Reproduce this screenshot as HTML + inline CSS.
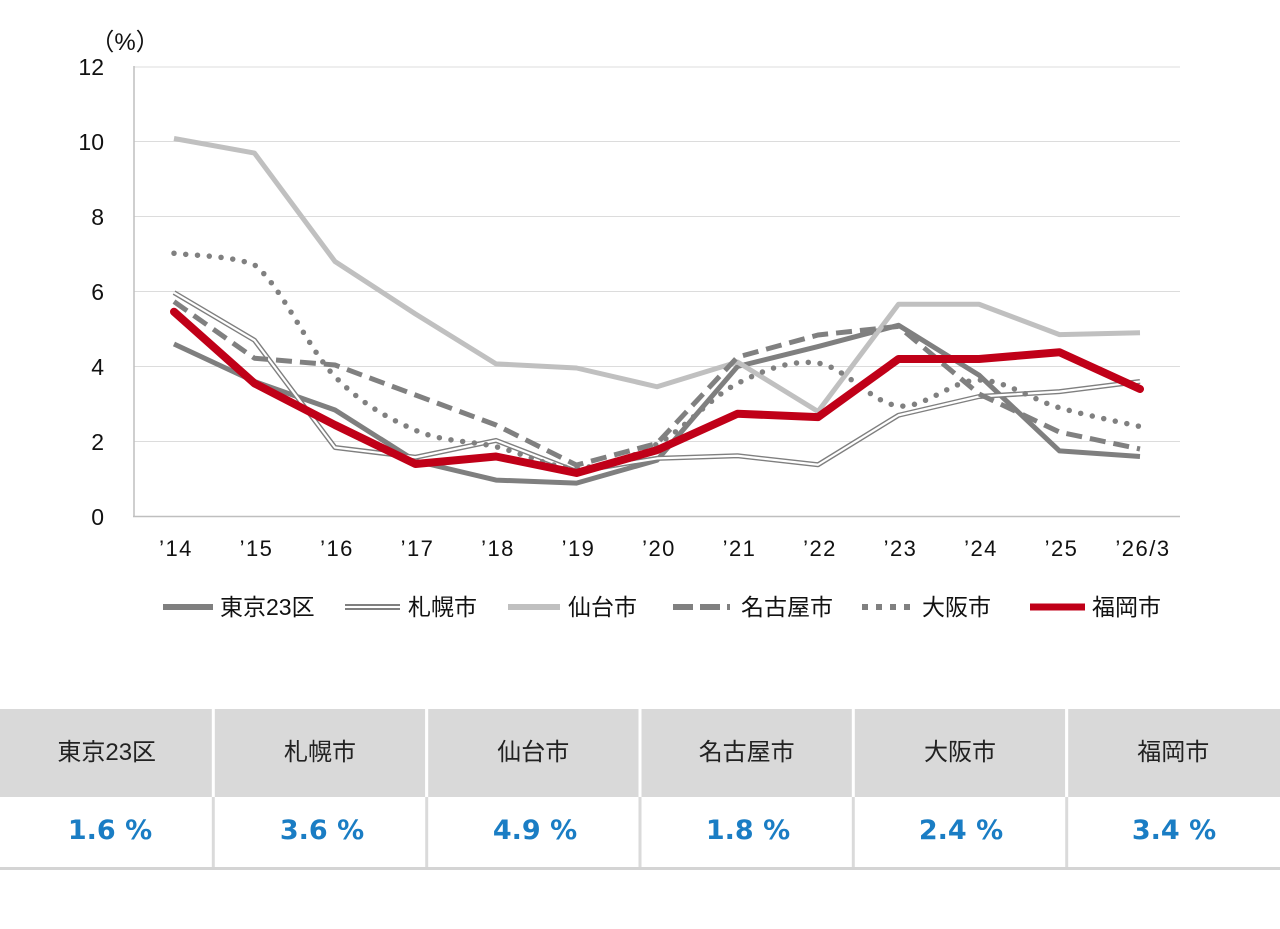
<!DOCTYPE html>
<html><head><meta charset="utf-8"><style>
html,body{margin:0;padding:0;background:#fff;}
svg{display:block;}
</style></head><body>
<svg width="1280" height="929" viewBox="0 0 1280 929" xmlns="http://www.w3.org/2000/svg">
<rect width="1280" height="929" fill="#fff"/>
<!-- gridlines -->
<g stroke="#dcdcdc" stroke-width="1">
<line x1="134" y1="67" x2="1180" y2="67"/>
<line x1="134" y1="141.5" x2="1180" y2="141.5"/>
<line x1="134" y1="216.5" x2="1180" y2="216.5"/>
<line x1="134" y1="291.5" x2="1180" y2="291.5"/>
<line x1="134" y1="366.5" x2="1180" y2="366.5"/>
<line x1="134" y1="441.5" x2="1180" y2="441.5"/>
</g>
<line x1="134" y1="66" x2="134" y2="517" stroke="#bfbfbf" stroke-width="1.5"/>
<line x1="133" y1="516.5" x2="1180" y2="516.5" stroke="#bfbfbf" stroke-width="1.5"/>
<!-- y labels -->
<g font-family="'Liberation Sans','Noto Sans CJK JP',sans-serif" font-size="23" fill="#111" text-anchor="end">
<text x="104" y="75">12</text>
<text x="104" y="150">10</text>
<text x="104" y="225">8</text>
<text x="104" y="300">6</text>
<text x="104" y="375">4</text>
<text x="104" y="450">2</text>
<text x="104" y="525">0</text>
</g>
<text x="125" y="50" font-family="'Liberation Sans','Noto Sans CJK JP',sans-serif" font-size="24" fill="#111" text-anchor="middle">（%）</text>
<!-- x labels -->
<g font-family="'Liberation Sans','Noto Sans CJK JP',sans-serif" font-size="22" fill="#111" text-anchor="middle" letter-spacing="1.5">
<text x="176" y="556">’14</text>
<text x="256.5" y="556">’15</text>
<text x="337" y="556">’16</text>
<text x="417.5" y="556">’17</text>
<text x="498" y="556">’18</text>
<text x="578.5" y="556">’19</text>
<text x="659" y="556">’20</text>
<text x="739.5" y="556">’21</text>
<text x="820" y="556">’22</text>
<text x="900.5" y="556">’23</text>
<text x="981" y="556">’24</text>
<text x="1061.5" y="556">’25</text>
<text x="1143" y="556">’26/3</text>
</g>
<!-- series -->
<g fill="none" stroke-linejoin="round">
<!-- Tokyo -->
<polyline stroke="#7f7f7f" stroke-width="5" points="174,344 254.5,381.5 335,410 415.5,461 496,480.1 576.5,483.1 657,460.25 737.5,366.5 818,346.6 898.5,325.25 979,375.1 1059.5,450.9 1140,456.5"/>
<!-- Sapporo double -->
<polyline stroke="#7f7f7f" stroke-width="5" points="174,292.6 254.5,340.25 335,447.5 415.5,457.25 496,440.4 576.5,471.5 657,458.4 737.5,455.75 818,464.75 898.5,415.25 979,396.5 1059.5,391.6 1140,381.5"/>
<polyline stroke="#ffffff" stroke-width="2.2" points="174,292.6 254.5,340.25 335,447.5 415.5,457.25 496,440.4 576.5,471.5 657,458.4 737.5,455.75 818,464.75 898.5,415.25 979,396.5 1059.5,391.6 1140,381.5"/>
<!-- Sendai -->
<polyline stroke="#c0c0c0" stroke-width="5" points="174,138.5 254.5,153.1 335,261.5 415.5,314 496,363.9 576.5,368 657,386.75 737.5,362 818,411.5 898.5,304.25 979,304.25 1059.5,334.6 1140,332.75"/>
<!-- Nagoya dashed -->
<polyline stroke="#808080" stroke-width="5" stroke-dasharray="16 8" points="174,301.6 254.5,358.25 335,365 415.5,395 496,425 576.5,465.1 657,443.4 737.5,357.1 818,335 898.5,326.4 979,393.9 1059.5,432.1 1140,449"/>
<!-- Osaka dotted smoothed -->
<path stroke="#808080" stroke-width="5.5" stroke-linecap="round" stroke-dasharray="0 11.8" d="M174,253.25 C200,256 232,256 254.5,264.9 C281.33,285.46 308.17,349.04 335,376.6 C361.83,404.16 388.67,418.56 415.5,430.25 C442.33,441.94 469.17,440.5 496,446.75 C522.83,453 549.67,468.19 576.5,467.75 C603.33,467.31 630.17,458.16 657,444.1 C683.83,430.04 710.67,396.9 737.5,383.4 C764.33,369.9 791.17,359.35 818,363.1 C844.83,366.85 871.67,403.08 898.5,405.9 C925.33,408.72 952.17,379.69 979,380 C1005.83,380.31 1032.67,400 1059.5,407.75 C1086.33,415.5 1126.58,423.38 1140,426.5"/>
<!-- Fukuoka -->
<polyline stroke="#c00018" stroke-width="8" stroke-linecap="round" points="174,311.75 254.5,383.4 335,425 415.5,464 496,456.5 576.5,473 657,450.1 737.5,413.75 818,417.1 898.5,359 979,359 1059.5,352.25 1140,389"/>
</g>
<!-- legend -->
<g font-family="'Liberation Sans','Noto Sans CJK JP',sans-serif" font-size="23" fill="#111">
<line x1="163" y1="607" x2="213" y2="607" stroke="#7f7f7f" stroke-width="6"/>
<text x="220" y="615">東京23区</text>
<line x1="345" y1="607" x2="400" y2="607" stroke="#7f7f7f" stroke-width="6"/>
<line x1="345" y1="607" x2="400" y2="607" stroke="#fff" stroke-width="2"/>
<text x="408" y="615">札幌市</text>
<line x1="508" y1="607" x2="560" y2="607" stroke="#c0c0c0" stroke-width="6"/>
<text x="568" y="615">仙台市</text>
<line x1="673" y1="607" x2="730" y2="607" stroke="#808080" stroke-width="6" stroke-dasharray="20 7"/>
<text x="741" y="615">名古屋市</text>
<line x1="862" y1="607" x2="915" y2="607" stroke="#808080" stroke-width="6" stroke-dasharray="6 8"/>
<text x="922" y="615">大阪市</text>
<line x1="1030" y1="607" x2="1085" y2="607" stroke="#c00018" stroke-width="7"/>
<text x="1092" y="615">福岡市</text>
</g>
<!-- table -->
<g fill="#d9d9d9">
<rect x="0" y="709" width="211.8" height="88"/>
<rect x="214.8" y="709" width="210.3" height="88"/>
<rect x="428.2" y="709" width="210.3" height="88"/>
<rect x="641.5" y="709" width="210.3" height="88"/>
<rect x="854.8" y="709" width="210.3" height="88"/>
<rect x="1068.2" y="709" width="211.8" height="88"/>
</g>
<g stroke="#dadada" stroke-width="3">
<line x1="213.3" y1="797" x2="213.3" y2="867"/>
<line x1="426.7" y1="797" x2="426.7" y2="867"/>
<line x1="640" y1="797" x2="640" y2="867"/>
<line x1="853.3" y1="797" x2="853.3" y2="867"/>
<line x1="1066.7" y1="797" x2="1066.7" y2="867"/>
</g>
<line x1="0" y1="868.5" x2="1280" y2="868.5" stroke="#d4d4d4" stroke-width="3"/>
<g font-family="'Liberation Sans','Noto Sans CJK JP',sans-serif" font-size="24" fill="#222" text-anchor="middle">
<text x="106.7" y="760">東京23区</text>
<text x="320" y="760">札幌市</text>
<text x="533.3" y="760">仙台市</text>
<text x="746.7" y="760">名古屋市</text>
<text x="960" y="760">大阪市</text>
<text x="1173.3" y="760">福岡市</text>
</g>
<g font-family="'DejaVu Sans','Liberation Sans',sans-serif" font-size="27" font-weight="bold" fill="#1a7dc4" text-anchor="middle">
<text x="110" y="839">1.6 %</text>
<text x="322" y="839">3.6 %</text>
<text x="535" y="839">4.9 %</text>
<text x="748" y="839">1.8 %</text>
<text x="961" y="839">2.4 %</text>
<text x="1174" y="839">3.4 %</text>
</g>
</svg>
</body></html>
